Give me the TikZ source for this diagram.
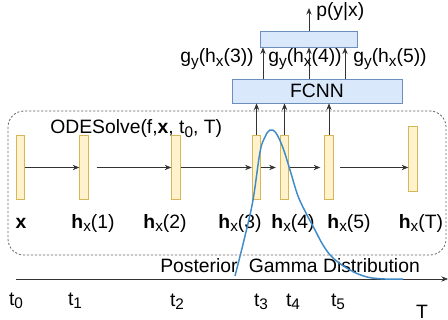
\documentclass[tikz,border=0pt]{standalone}
\usepackage{fontspec}
\setmainfont{Liberation Sans}
\usetikzlibrary{arrows.meta}
\definecolor{barfill}{HTML}{FFF2CC}
\definecolor{barline}{HTML}{D6B656}
\definecolor{boxfill}{HTML}{DAE8FC}
\definecolor{boxline}{HTML}{6C8EBF}
\definecolor{curveblue}{HTML}{3D8BC9}
\definecolor{arrowgray}{HTML}{333333}
\newcommand{\lowsub}[1]{\raisebox{-0.32ex}{\fontsize{11.5}{12}\selectfont #1}}
\newcommand{\hx}[1]{\textbf{h}\lowsub{x}(#1)}
\newcommand{\gy}[1]{g\lowsub{y}(h\lowsub{x}(#1))}
\begin{document}
\begin{tikzpicture}[x=0.75pt,y=-0.75pt,
  every node/.style={font=\fontsize{14.5}{17}\selectfont, inner sep=0pt},
  bar/.style={draw=barline, fill=barfill, line width=0.6pt, minimum width=6.4pt, minimum height=48.5pt},
  bluebox/.style={draw=boxline, fill=boxfill, line width=0.6pt},
  flow/.style={draw=arrowgray, line width=0.6pt, -{Stealth[length=5pt,width=4pt]}},
  label/.style={anchor=base},
  solverbox/.style={draw=black!60, dash pattern=on 1.6pt off 1.4pt, line width=0.6pt, rounded corners=12pt}
]
\useasboundingbox (0,0) rectangle (448,320);

% ODE solver region
\draw[solverbox] (8,111) rectangle (446,255);
\node[anchor=base west] (ode) at (50,134) {ODESolve(f,\textbf{x}, t\lowsub{0}, T)};

% hidden states
\node[bar] (x)  at (20.5,167.5) {};
\node[bar] (h1) at (84,167.5) {};
\node[bar] (h2) at (176,167.5) {};
\node[bar] (h3) at (256.5,167.5) {};
\node[bar] (h4) at (284.5,167.5) {};
\node[bar] (h5) at (329,167.5) {};
\node[bar] (hT) at (413,159) {};

\draw[flow] (x.east) -- (h1.west);
\draw[flow] ([xshift=6pt]h1.east) -- (h2.west);
\draw[flow] (h2.east) -- (h3.west);
\draw[flow] (h3.east) -- ([xshift=-3pt]h4.west);
\draw[flow] (h4.east) -- ([xshift=-3pt]h5.west);
\draw[flow] ([xshift=5pt]h5.east) -- (h5.center -| hT.west);

\node[label] (lx)  at (21,228)  {\textbf{x}};
\node[label] (l1)  at (93,228)  {\hx{1}};
\node[label] (l2)  at (165,228) {\hx{2}};
\node[label] (l3)  at (240,228) {\hx{3}};
\node[label] (l4)  at (293,228) {\hx{4}};
\node[label] (l5)  at (349,228) {\hx{5}};
\node[label] (lT)  at (421,228) {\hx{T}};

% readout network
\node[bluebox, minimum width=127.5pt, minimum height=18pt] (fcnn) at (317,91) {FCNN};
\node[bluebox, minimum width=72.75pt, minimum height=12pt] (out) at (308.5,39) {};

\draw[flow] (h3.north) -- (h3.north |- fcnn.south);
\draw[flow] (h4.north) -- (h4.north |- fcnn.south);
\draw[flow] (h5.north) -- (h5.north |- fcnn.south);

\coordinate (g3) at (263,0);
\coordinate (g4) at (309,0);
\coordinate (g5) at (345,0);
\draw[flow] (fcnn.north -| g3) -- (out.south -| g3);
\draw[flow] (fcnn.north -| g4) -- (out.south -| g4);
\draw[flow] (fcnn.north -| g5) -- (out.south -| g5);

\node[label] (gl3) at (217,63) {\gy{3}};
\node[label] (gl4) at (305,63) {\gy{4}};
\node[label] (gl5) at (390,63) {\gy{5}};

\coordinate (ptip) at (309,8);
\draw[flow] (out.north -| g4) -- (ptip);
\node[anchor=base west] (py) at (316,17) {p(y|x)};

% time axis
\coordinate (axstart) at (16,279);
\coordinate (axend) at (448,279);
\draw[draw=arrowgray, line width=0.6pt, -{Stealth[length=5pt,width=4pt]}] (axstart) -- (axend);

\node[label] (t0) at (16,305)  {t\lowsub{0}};
\node[label] (t1) at (75,305)  {t\lowsub{1}};
\node[label] (t2) at (177,306) {t\lowsub{2}};
\node[label] (t3) at (261,306) {t\lowsub{3}};
\node[label] (t4) at (293,306) {t\lowsub{4}};
\node[label] (t5) at (338,306) {t\lowsub{5}};
\node[label] (tT) at (422,318) {T};

\node[anchor=base west] (post) at (160,272) {Posterior\hspace{8.5pt}Gamma Distribution};

% posterior density
\draw[curveblue, line width=1.1pt] plot[smooth, tension=0.6] coordinates {
  (235,276) (245,236) (253,200) (260,152) (265,137) (270,130) (276,133)
  (283,148) (290,170) (298,196) (307,215) (315,230) (323,245) (333,258)
  (350,270) (367,277) (385,279) (403,279)};
\end{tikzpicture}
\end{document}
